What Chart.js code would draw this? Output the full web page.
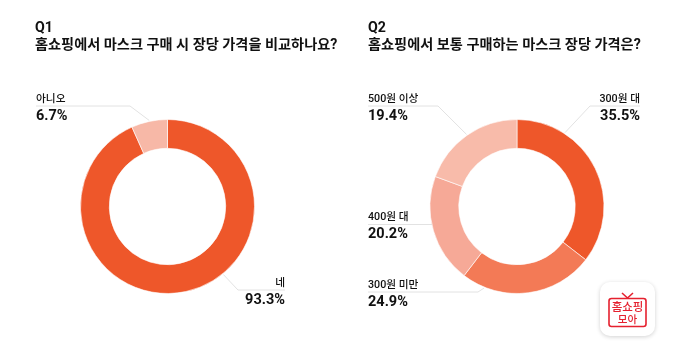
<!DOCTYPE html>
<html lang="ko">
<head>
<meta charset="utf-8">
<script src="https://cdn.jsdelivr.net/npm/chart.js@4"></script>
<style>
  html, body { margin: 0; padding: 0; background: #fff; }
  body { position: relative; width: 680px; height: 361px; overflow: hidden; font-family: Roboto, "Noto Sans CJK KR", sans-serif; color: #111; }
  canvas { position: absolute; top: 0; }
  #q1 { left: 0; }
  #q2 { left: 340px; }
  .title { position: absolute; top: 19px; font-size: 14.2px; font-weight: 700; line-height: 17px; white-space: nowrap; }
  .logo { position: absolute; left: 600px; top: 282px; width: 55px; height: 54px; border-radius: 10px; background: #fff; box-shadow: 0 1px 4px rgba(0,0,0,.18); }
  .logo svg { position: absolute; left: 8px; top: 10px; }
  .logo div { position: absolute; left: 0; width: 55px; text-align: center; color: #e5212f; font-weight: 500; white-space: nowrap; }
</style>
</head>
<body>
<canvas id="q1" width="340" height="361"></canvas>
<canvas id="q2" width="340" height="361"></canvas>
<div class="title" style="left:35px">Q1<br>홈쇼핑에서 마스크 구매 시 장당 가격을 비교하나요?</div>
<div class="title" style="left:368px">Q2<br>홈쇼핑에서 보통 구매하는 마스크 장당 가격은?</div>
<div class="logo">
  <svg width="39" height="36" viewBox="0 0 39 36">
    <path d="M14 1 L19.5 6 L25 1" fill="none" stroke="#e5212f" stroke-width="1.6"/>
    <rect x="1" y="6.5" width="37" height="28" rx="2.5" fill="#fff" stroke="#e5212f" stroke-width="1.6"/>
  </svg>
  <div style="top:18px;font-size:11.5px;line-height:14px">홈쇼핑</div>
  <div style="top:31px;font-size:10.5px;line-height:13px">모아</div>
</div>
<script>
const q1Labels = ['네', '아니오'];
const q1Values = [93.3, 6.7];
const q1Colors = ['#EE572A', '#F7B8A7'];

const q2Labels = ['300원 대', '300원 미만', '400원 대', '500원 이상'];
const q2Values = [35.5, 24.9, 20.2, 19.4];
const q2Colors = ['#EE572A', '#F37A56', '#F6A997', '#F8BBAA'];

// where each callout sits, same order as the labels
const q1Callouts = [
  { angle: 140.6, lineY: 290, endX: 238, textX: 285, align: 'right' },
  { angle: -12, lineY: 106, endX: 130, textX: 36, align: 'left' }
];
const q2Callouts = [
  { angle: 33, lineY: 106, endX: 250, textX: 300, align: 'right' },
  { angle: 202, lineY: 292, endX: 138, textX: 28, align: 'left' },
  { angle: 258, lineY: 224.5, endX: 92, textX: 28, align: 'left' },
  { angle: -35, lineY: 106, endX: 98, textX: 28, align: 'left' }
];

const calloutPlugin = {
  id: 'callouts',
  afterDraw(chart, args, opts) {
    const c = chart.ctx;
    const arc = chart.getDatasetMeta(0).data[0];
    const labels = chart.data.labels;
    const values = chart.data.datasets[0].data;
    opts.items.forEach((item, i) => {
      const rad = item.angle * Math.PI / 180;
      const px = arc.x + Math.sin(rad) * (arc.outerRadius + 1);
      const py = arc.y - Math.cos(rad) * (arc.outerRadius + 1);
      c.save();
      c.strokeStyle = '#e2e2e2';
      c.lineWidth = 1;
      c.beginPath();
      c.moveTo(px, py);
      c.lineTo(item.endX, item.lineY);
      c.lineTo(item.textX, item.lineY);
      c.stroke();
      c.fillStyle = '#111';
      c.textAlign = item.align;
      c.textBaseline = 'alphabetic';
      c.font = '500 10.7px Roboto, "Noto Sans CJK KR"';
      c.fillText(labels[i], item.textX, item.lineY - 4.5);
      c.font = '700 14.5px Roboto, "Noto Sans CJK KR"';
      c.fillText(values[i].toFixed(1) + '%', item.textX, item.lineY + 13.5);
      c.restore();
    });
  }
};

function drawDonut(id, labels, values, colors, callouts, padding) {
  return new Chart(document.getElementById(id).getContext('2d'), {
    type: 'doughnut',
    data: {
      labels: labels,
      datasets: [{
        data: values,
        backgroundColor: colors,
        borderColor: '#fff',
        borderWidth: 0.6,
        radius: 87,
        cutout: 58
      }]
    },
    plugins: [calloutPlugin],
    options: {
      responsive: false,
      animation: false,
      layout: { padding: padding },
      plugins: {
        legend: { display: false },
        tooltip: { enabled: false },
        callouts: { items: callouts }
      }
    }
  });
}

drawDonut('q1', q1Labels, q1Values, q1Colors, q1Callouts, { left: 80.5, right: 85.5, top: 119.5, bottom: 67.5 });
drawDonut('q2', q2Labels, q2Values, q2Colors, q2Callouts, { left: 90, right: 76, top: 119.5, bottom: 67.5 });
</script>
</body>
</html>
